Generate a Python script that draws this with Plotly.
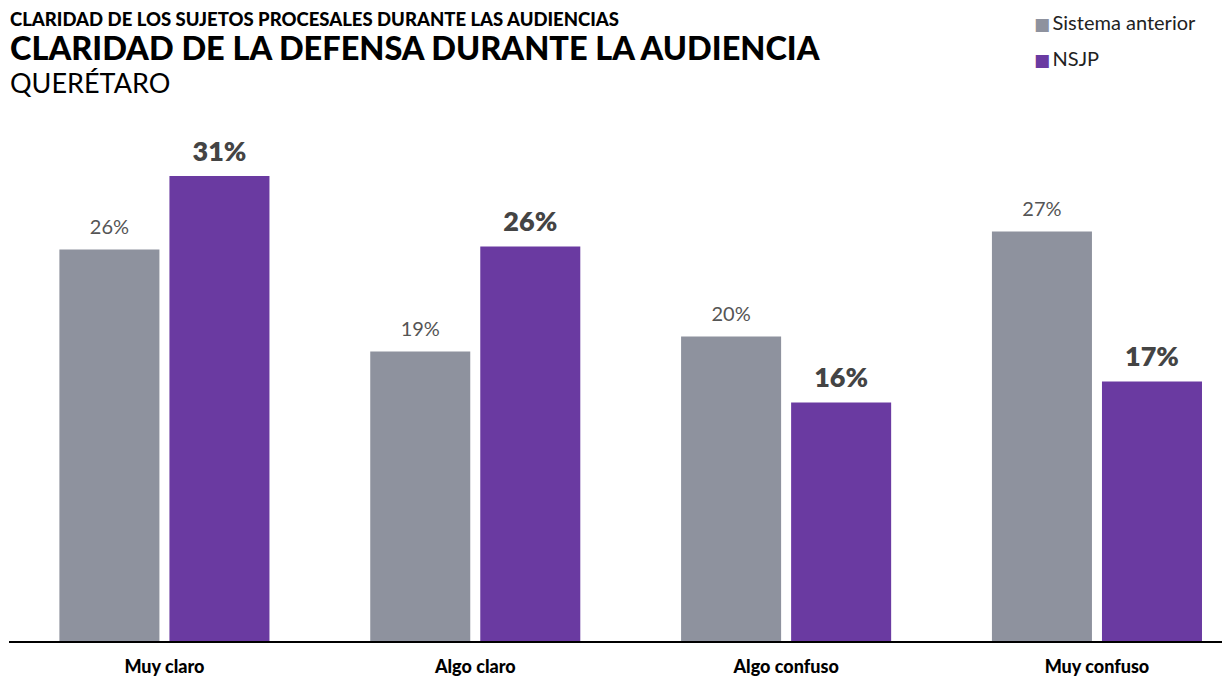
import plotly.graph_objects as go

# categories and shares (percent)
categorias = ["Muy claro", "Algo claro", "Algo confuso", "Muy confuso"]
sistema_anterior = [26.1, 19.3, 20.3, 27.3]
nsjp = [31.0, 26.3, 15.9, 17.3]
series = ["Sistema anterior", "NSJP"]

GRIS = "#8e929e"
MORADO = "#6a3aa1"
W_PLOT = 1221  # plot width in px, used to place paper-relative texts


def etiqueta(size):
    # small base font + blank second line lifts the label a few px off the bar
    return f"<span style='font-size:{size}px'>%{{y:.0f}}%</span><br> "


fig = go.Figure()
fig.add_trace(go.Bar(
    x=categorias, y=sistema_anterior, name=series[0],
    marker=dict(color=GRIS, line=dict(width=0)),
    texttemplate=etiqueta(20), textposition="outside",
    textfont=dict(family="Lato", size=8, color="#555555"),
    cliponaxis=False,
))
fig.add_trace(go.Bar(
    x=categorias, y=nsjp, name=series[1],
    marker=dict(color=MORADO, line=dict(width=0)),
    texttemplate=etiqueta(27), textposition="outside",
    textfont=dict(family="Lato", size=8, color="#444444", weight=800),
    cliponaxis=False,
))

# titles
fig.add_annotation(text="CLARIDAD DE LOS SUJETOS PROCESALES DURANTE LAS AUDIENCIAS",
                   xref="paper", yref="paper", x=-1 / W_PLOT, y=1, yshift=104,
                   xanchor="left", yanchor="top", showarrow=False,
                   font=dict(family="Lato", size=18.5, color="#000000", weight=900))
fig.add_annotation(text="CLARIDAD DE LA DEFENSA DURANTE LA AUDIENCIA",
                   xref="paper", yref="paper", x=-1 / W_PLOT, y=1, yshift=84,
                   xanchor="left", yanchor="top", showarrow=False,
                   font=dict(family="Lato", size=32.5, color="#000000", weight=900))
fig.add_annotation(text="QUERÉTARO",
                   xref="paper", yref="paper", x=-1 / W_PLOT, y=1, yshift=46,
                   xanchor="left", yanchor="top", showarrow=False,
                   font=dict(family="Lato", size=27, color="#000000"))

# legend drawn as text, top right
for i, (nombre, color) in enumerate(zip(series, [GRIS, MORADO])):
    fig.add_annotation(
        text=f"<span style='color:{color}; font-family:DejaVu Sans; font-size:17px'>■</span>\u2009{nombre}",
        xref="paper", yref="paper", x=(1032 - 9) / W_PLOT, y=1,
        yshift=110 - 22 - 36 * i, xanchor="left", yanchor="middle",
        showarrow=False,
        font=dict(family="Lato", size=20, color="#222222"))

fig.update_layout(
    width=1230, height=677,
    margin=dict(l=1, r=8, t=102, b=44),
    paper_bgcolor="white", plot_bgcolor="white",
    font=dict(family="Lato", color="#000000"),
    barmode="group", bargap=0.292, bargroupgap=0.091,
    showlegend=False,
)
fig.update_xaxes(range=[-0.5, 3.428], showline=True, linecolor="#000000", linewidth=2,
                 ticks="outside", ticklen=8, tickcolor="rgba(0,0,0,0)",
                 tickfont=dict(family="Lato", size=18, color="#000000", weight=900),
                 showgrid=False)
fig.update_yaxes(range=[0, 35.4], visible=False, showgrid=False, zeroline=False)

fig.write_html("out.html")
